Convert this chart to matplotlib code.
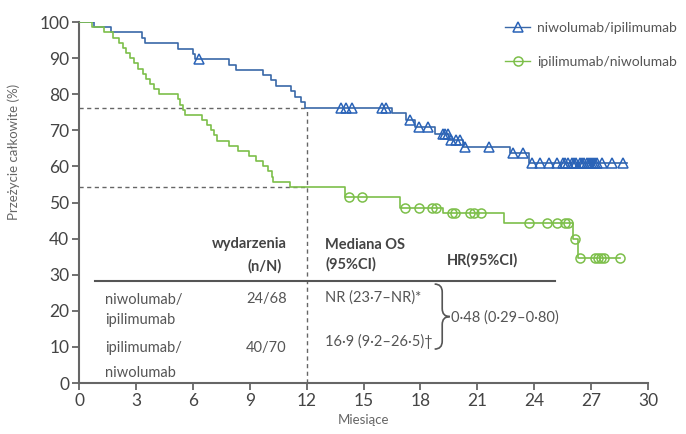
import numpy as np
import matplotlib
matplotlib.use("Agg")
import matplotlib.pyplot as plt
from matplotlib.path import Path
from matplotlib.patches import PathPatch

plt.rcParams['font.family'] = ['Lato', 'DejaVu Sans']

# Kaplan-Meier steps (months, % alive)
blue_t = [0, 0.8, 1.7, 3.3, 3.5, 5.2, 6.0, 6.1, 7.9, 8.3, 9.7, 10.1, 10.4, 11.2, 11.4,
          11.7, 11.9, 16.5, 17.25, 17.7, 18.75, 19.5, 20.25, 22.7, 23.7]
blue_s = [100, 98.5, 97.1, 95.6, 94.1, 92.6, 91.2, 89.7, 88.2, 86.8, 85.3, 83.8, 82.3, 80.8, 79.3,
          77.8, 76.3, 74.7, 72.9, 71.0, 69.1, 67.3, 65.5, 63.6, 60.9]
blue_end = 28.9
blue_cens = [6.3, 13.8, 14.1, 14.4, 15.95, 16.2, 17.45, 17.9, 18.4, 19.2, 19.3, 19.45, 19.6,
             19.9, 20.1, 20.35, 21.6, 22.9, 23.4, 23.9, 24.3, 24.8, 25.2, 25.5, 25.6, 25.8,
             26.0, 26.1, 26.2, 26.4, 26.5, 26.6, 26.8, 26.9, 27.0, 27.1, 27.2, 27.3, 27.6,
             28.1, 28.7]

green_t = [0, 0.7, 1.3, 1.8, 2.1, 2.3, 2.5, 2.7, 2.9, 3.1, 3.35, 3.55, 3.75, 3.95, 4.2,
           5.2, 5.35, 5.5, 5.6, 6.5, 6.75, 6.95, 7.1, 7.25, 7.9, 8.4, 8.95, 9.35, 9.7, 9.95,
           10.15, 10.25, 11.1, 14.0, 16.9, 19.2, 22.4, 26.05, 26.3]
green_s = [100, 98.6, 97.1, 95.7, 94.3, 92.9, 91.4, 90.0, 88.6, 87.1, 85.7, 84.3, 82.9, 81.4, 80.0,
           78.6, 77.1, 75.7, 74.3, 72.9, 71.4, 70.0, 68.6, 67.1, 65.7, 64.3, 62.9, 61.4, 60.0, 58.6,
           57.1, 55.7, 54.3, 51.6, 48.4, 47.0, 44.4, 40.0, 34.5]
green_end = 28.5
green_cens = [14.25, 14.9, 17.2, 17.9, 18.6, 18.8, 19.65, 19.8, 20.6, 20.8, 21.2, 23.7, 24.65,
              25.2, 25.6, 25.8, 26.15, 26.4, 27.2, 27.35, 27.5, 27.7, 28.5]

labels = ["niwolumab/ipilimumab", "ipilimumab/niwolumab"]
xticks = np.arange(0, 31, 3)
yticks = np.arange(0, 101, 10)
landmark = 12

blue = '#3a68a8'
blue_m = '#2a63b8'
green = '#7dbf4a'
gray = '#555555'


def level_at(times, surv, t):
    i = np.searchsorted(times, t, side='right') - 1
    return np.asarray(surv)[i]


fig = plt.figure(figsize=(6.86, 4.34), dpi=100)
ax = fig.add_axes([0.1152, 0.1175, 0.8294, 0.8318])

for t, s, end, cens, col, mcol, mk, ms, lab in [
        (blue_t, blue_s, blue_end, blue_cens, blue, blue_m, '^', 6.5, labels[0]),
        (green_t, green_s, green_end, green_cens, green, green, 'o', 6.5, labels[1])]:
    tt = list(t) + [end]
    ss = list(s) + [s[-1]]
    ax.step(tt, ss, where='post', color=col, lw=1.2, zorder=3)
    cy = level_at(t, s, np.array(cens))
    ax.plot(cens, cy, linestyle='none', marker=mk, ms=ms, mfc='none', mec=mcol,
            mew=1.1, zorder=4, clip_on=False)
    ax.plot([], [], color=col, lw=1.0, marker=mk, ms=ms, mfc='none', mec=mcol,
            mew=1.1, label=lab)

# landmark lines at 12 months
b12 = level_at(blue_t, blue_s, landmark)
g12 = level_at(green_t, green_s, landmark)
dash = dict(color='#666666', lw=1.0, linestyle=(0, (3, 2.5)), zorder=2)
ax.plot([0, landmark], [b12, b12], **dash)
ax.plot([0, landmark], [g12, g12], **dash)
ax.plot([landmark, landmark], [0, b12], **dash)

ax.set_xlim(0, 30)
ax.set_ylim(0, 100)
ax.set_xticks(xticks)
ax.set_yticks(yticks)
for sp in ['top', 'right']:
    ax.spines[sp].set_visible(False)
for sp in ['left', 'bottom']:
    ax.spines[sp].set_color('#666666')
    ax.spines[sp].set_linewidth(1.5)
ax.tick_params(direction='out', length=5, width=1.3, color='#666666',
               labelcolor='#444444', labelsize=12.5, pad=2)
ax.set_xlabel("Miesiące", fontsize=9.5, color='#666666', labelpad=4)
ax.set_ylabel("Przeżycie całkowite (%)", fontsize=9.5, color='#666666', labelpad=4)
ax.yaxis.set_label_coords(-0.103, 0.64)

ax.legend(loc='upper left', bbox_to_anchor=(0.749, 1.0), frameon=False, fontsize=10,
          handlelength=1.8, handletextpad=0.5, labelspacing=1.55, borderpad=0,
          borderaxespad=0, labelcolor='#555555')

# table inside the plot
hdr = dict(fontsize=10.5, fontweight='bold', color='#444444', va='center')
txt = dict(fontsize=10.5, color=gray, va='center')
ax.text(9.0, 38.5, "wydarzenia", ha='center', **hdr)
ax.text(9.8, 32.4, "(n/N)", ha='center', **hdr)
ax.text(12.97, 38.2, "Mediana OS", ha='left', **hdr)
ax.text(12.97, 33.0, "(95%CI)", ha='left', **hdr)
ax.text(19.4, 34.1, "HR(95%CI)", ha='left', **hdr)
ax.plot([0.84, 25.1], [28.3, 28.3], color=gray, lw=1.5, zorder=2)

ax.text(1.37, 23.0, "niwolumab/", ha='left', **txt)
ax.text(1.37, 17.5, "ipilimumab", ha='left', **txt)
ax.text(1.37, 9.7, "ipilimumab/", ha='left', **txt)
ax.text(1.37, 2.8, "niwolumab", ha='left', **txt)
ax.text(9.9, 23.3, "24/68", ha='center', **txt)
ax.text(9.85, 9.7, "40/70", ha='center', **txt)
ax.text(12.97, 23.8, "NR (23·7–NR)*", ha='left', **txt)
ax.text(12.97, 11.4, "16·9 (9·2–26·5)†", ha='left', **txt)
ax.text(19.6, 18.0, "0·48 (0·29–0·80)", ha='left', **txt)

# curly brace
bx, bw, y0, y1 = 18.75, 0.8, 9.4, 27.4
ym, d = (y0 + y1) / 2, 2.2
verts = [(bx, y1), (bx + bw / 2, y1), (bx + bw / 2, y1 - d),
         (bx + bw / 2, ym + d),
         (bx + bw / 2, ym), (bx + bw, ym),
         (bx + bw / 2, ym), (bx + bw / 2, ym - d),
         (bx + bw / 2, y0 + d),
         (bx + bw / 2, y0), (bx, y0)]
codes = [Path.MOVETO, Path.CURVE3, Path.CURVE3, Path.LINETO, Path.CURVE3, Path.CURVE3,
         Path.CURVE3, Path.CURVE3, Path.LINETO, Path.CURVE3, Path.CURVE3]
ax.add_patch(PathPatch(Path(verts, codes), fc='none', ec=gray, lw=1.2))

fig.savefig("out.png", dpi=100)
